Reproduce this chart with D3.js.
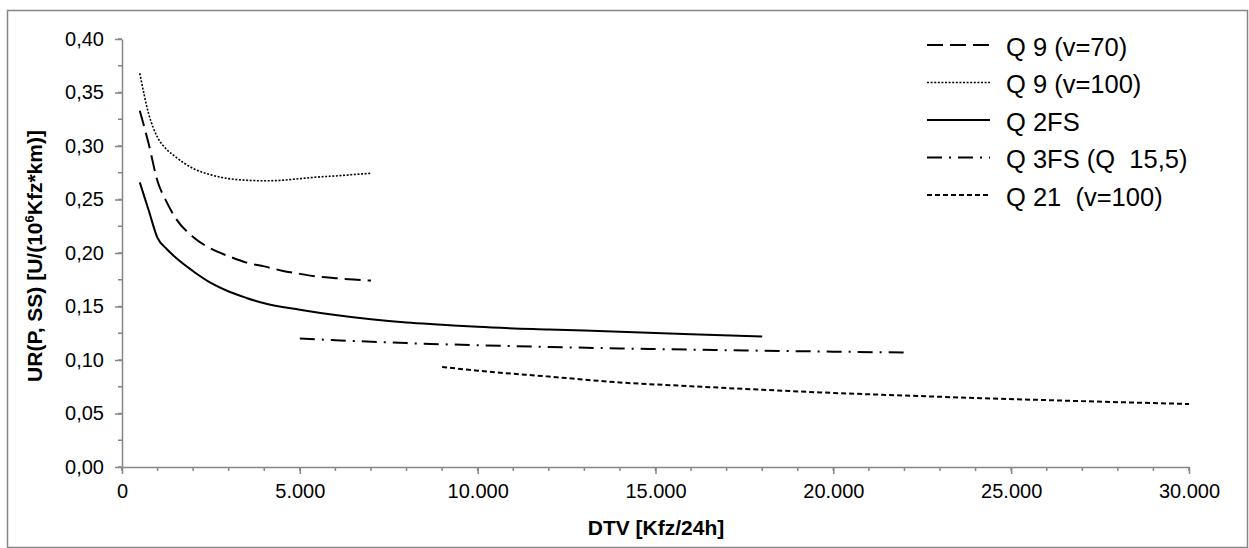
<!DOCTYPE html>
<html>
<head>
<meta charset="utf-8">
<script src="https://cdn.jsdelivr.net/npm/d3@7"></script>
<style>
  body { margin: 0; background: #fff; }
  text { font-family: Arial, "Liberation Sans", sans-serif; fill: #000; }
</style>
</head>
<body>
<div id="chart"></div>
<script>
// --- data (DTV in Kfz/24h, UR values) ---
var q9v70X  = [500, 750, 1000, 1250, 1500, 2000, 2500, 3000, 3500, 4000, 4500, 5000, 5500, 6000, 6500, 7000];
var q9v70Y  = [0.333, 0.302, 0.267, 0.248, 0.233, 0.215, 0.204, 0.197, 0.191, 0.1875, 0.1835, 0.1805, 0.178, 0.1765, 0.1752, 0.1742];

var q9v100X = [500, 750, 1000, 1250, 1500, 2000, 2500, 3000, 3500, 4000, 4500, 5000, 5500, 6000, 6500, 7000];
var q9v100Y = [0.368, 0.330, 0.308, 0.297, 0.290, 0.279, 0.273, 0.2695, 0.268, 0.2675, 0.268, 0.2695, 0.271, 0.272, 0.2733, 0.2745];

var q2fsX   = [500, 750, 1000, 1250, 1500, 2000, 2500, 3000, 3500, 4000, 5000, 6000, 7000, 8000, 9000, 10000, 12000, 14000, 16000, 18000];
var q2fsY   = [0.266, 0.240, 0.214, 0.204, 0.196, 0.183, 0.172, 0.164, 0.158, 0.153, 0.147, 0.142, 0.138, 0.135, 0.133, 0.131, 0.1285, 0.1265, 0.124, 0.122];

var q3fsX   = [5000, 6000, 8000, 10000, 12000, 14000, 16000, 18000, 20000, 22000];
var q3fsY   = [0.120, 0.1185, 0.1158, 0.1138, 0.1122, 0.1108, 0.1097, 0.1087, 0.1078, 0.1070];

var q21X    = [9000, 10000, 12000, 14000, 16000, 18000, 20000, 22000, 24000, 26000, 28000, 30000];
var q21Y    = [0.0935, 0.090, 0.0845, 0.079, 0.0755, 0.0722, 0.0692, 0.0668, 0.0645, 0.0625, 0.0606, 0.0589];

var seriesNames = ["Q 9 (v=70)", "Q 9 (v=100)", "Q 2FS", "Q 3FS (Q  15,5)", "Q 21  (v=100)"];
var xTicks = [0, 5000, 10000, 15000, 20000, 25000, 30000];
var yTicks = [0, 0.05, 0.10, 0.15, 0.20, 0.25, 0.30, 0.35, 0.40];
var xTitle = "DTV [Kfz/24h]";

// line styles per series (same order as the names)
var styles = [
    {dash: "16,7",       width: 2},
    {dash: "2,1.6",      width: 1.6},
    {dash: null,         width: 2},
    {dash: "15,7,2,7",   width: 2},
    {dash: "5,3",        width: 2}
];

var W = 1249, H = 548;
var axisGrey = "#868686";

var svg = d3.select("#chart").append("svg")
    .attr("width", W)
    .attr("height", H);

svg.append("rect")
    .attr("x", 0).attr("y", 0)
    .attr("width", W).attr("height", H)
    .attr("fill", "white");

// outer chart border
svg.append("rect")
    .attr("x", 7.5).attr("y", 10.5)
    .attr("width", 1240).attr("height", 537)
    .attr("fill", "none")
    .attr("stroke", axisGrey)
    .attr("stroke-width", 1.5);

var x = d3.scaleLinear().domain([0, 30000]).range([122, 1189]);
var y = d3.scaleLinear().domain([0, 0.4]).range([467, 39]);

// german number formatting: 5.000 and 0,40
var de = d3.formatLocale({decimal: ",", thousands: ".", grouping: [3], currency: ["", " €"]});
var fmtX = de.format(",.0f");
var fmtY = de.format(".2f");

// minor ticks first, so the major ticks sit on top
var xMinor = d3.range(0, 30001, 1000);
svg.append("g").selectAll("line")
    .data(xMinor)
    .enter().append("line")
    .attr("x1", d => x(d)).attr("x2", d => x(d))
    .attr("y1", y(0)).attr("y2", y(0) + 4)
    .attr("stroke", axisGrey).attr("stroke-width", 1.5);

var yMinor = d3.range(0, 0.4001, 0.025);
svg.append("g").selectAll("line")
    .data(yMinor)
    .enter().append("line")
    .attr("x1", x(0) - 4).attr("x2", x(0))
    .attr("y1", d => y(d)).attr("y2", d => y(d))
    .attr("stroke", axisGrey).attr("stroke-width", 1.5);

var xAxis = svg.append("g")
    .attr("transform", "translate(0," + y(0) + ")")
    .call(d3.axisBottom(x).tickValues(xTicks).tickFormat(fmtX).tickSize(7).tickSizeOuter(0).tickPadding(10));

var yAxis = svg.append("g")
    .attr("transform", "translate(" + x(0) + ",0)")
    .call(d3.axisLeft(y).tickValues(yTicks).tickFormat(fmtY).tickSize(7).tickSizeOuter(0).tickPadding(11));

[xAxis, yAxis].forEach(function(ax) {
    ax.select(".domain").attr("stroke", axisGrey).attr("stroke-width", 1.5);
    ax.selectAll(".tick line").attr("stroke", axisGrey).attr("stroke-width", 1.5);
    ax.selectAll(".tick text")
        .style("font-family", "Arial, 'Liberation Sans', sans-serif")
        .style("font-size", "20px")
        .attr("fill", "#000");
});

// axis titles
svg.append("text")
    .attr("x", 656).attr("y", 535)
    .attr("text-anchor", "middle")
    .style("font-size", "21px")
    .style("font-weight", "bold")
    .text(xTitle);

var yt = svg.append("text")
    .attr("transform", "translate(42,256) rotate(-90)")
    .attr("text-anchor", "middle")
    .style("font-size", "21px")
    .style("font-weight", "bold");
yt.append("tspan").text("UR(P, SS) [U/(10");
yt.append("tspan").attr("dy", -8).style("font-size", "13px").text("6");
yt.append("tspan").attr("dy", 8).text("Kfz*km)]");

// curves
var allX = [q9v70X, q9v100X, q2fsX, q3fsX, q21X];
var allY = [q9v70Y, q9v100Y, q2fsY, q3fsY, q21Y];

var line = d3.line()
    .x(d => x(d[0]))
    .y(d => y(d[1]))
    .curve(d3.curveMonotoneX);

for (var s = 0; s < allX.length; s++) {
    var pts = d3.zip(allX[s], allY[s]);
    svg.append("path")
        .attr("d", line(pts))
        .attr("fill", "none")
        .attr("stroke", "#000")
        .attr("stroke-width", styles[s].width)
        .attr("stroke-dasharray", styles[s].dash);
}

// legend
var legend = svg.append("g");
seriesNames.forEach(function(name, i) {
    var ly = 45 + i * 37.5;
    legend.append("line")
        .attr("x1", 927).attr("x2", 990)
        .attr("y1", ly).attr("y2", ly)
        .attr("stroke", "#000")
        .attr("stroke-width", styles[i].width)
        .attr("stroke-dasharray", styles[i].dash);
    legend.append("text")
        .attr("x", 1006).attr("y", ly + 2)
        .attr("dy", "0.35em")
        .style("font-size", "25.5px")
        .style("white-space", "pre")
        .text(name);
});
</script>
</body>
</html>
